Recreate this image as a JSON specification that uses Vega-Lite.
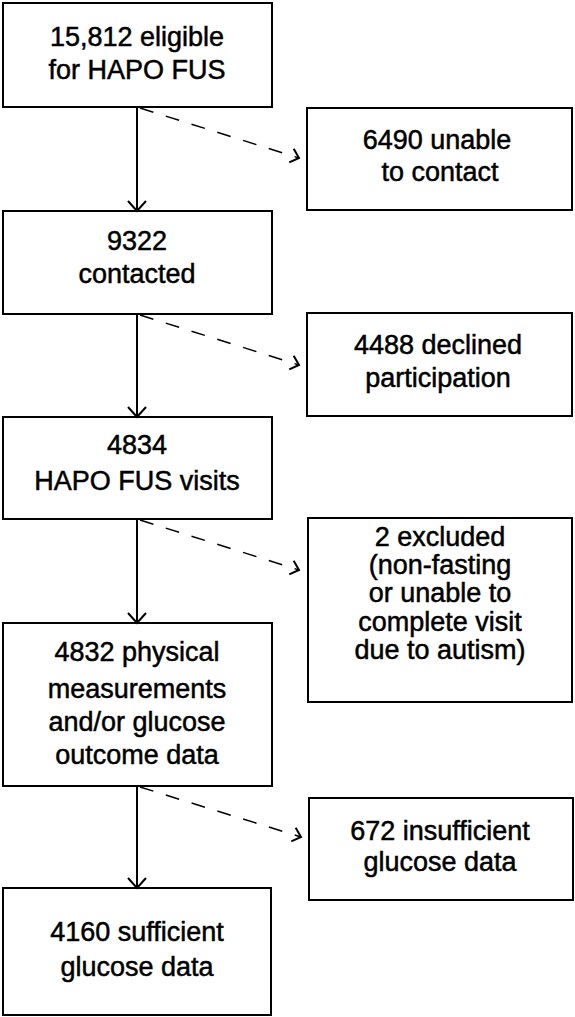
{
  "$schema": "https://vega.github.io/schema/vega-lite/v6.json",
  "width": 575,
  "height": 1017,
  "padding": 0,
  "autosize": {"type": "none"},
  "config": {"view": {"stroke": null}},
  "datasets": {
    "boxes": [
      {"id": "b1", "x1": 3, "x2": 272, "y1": 3, "y2": 107},
      {"id": "b2", "x1": 3, "x2": 272, "y1": 211, "y2": 314},
      {"id": "b3", "x1": 3, "x2": 272, "y1": 417, "y2": 519},
      {"id": "b4", "x1": 3, "x2": 272, "y1": 623, "y2": 786},
      {"id": "b5", "x1": 3, "x2": 271, "y1": 888, "y2": 1015},
      {"id": "r1", "x1": 307, "x2": 572, "y1": 108, "y2": 210},
      {"id": "r2", "x1": 307, "x2": 572, "y1": 313, "y2": 416},
      {"id": "r3", "x1": 308, "x2": 572, "y1": 518, "y2": 702},
      {"id": "r4", "x1": 309, "x2": 573, "y1": 798, "y2": 900}
    ],
    "links": [
      {"kind": "solid", "x1": 137, "y1": 107, "x2": 137, "y2": 211},
      {"kind": "solid", "x1": 137, "y1": 314, "x2": 137, "y2": 417},
      {"kind": "solid", "x1": 137, "y1": 519, "x2": 137, "y2": 623},
      {"kind": "solid", "x1": 137, "y1": 786, "x2": 137, "y2": 888},
      {"kind": "dashed", "x1": 140, "y1": 108, "x2": 299, "y2": 158},
      {"kind": "dashed", "x1": 140, "y1": 315, "x2": 299, "y2": 365},
      {"kind": "dashed", "x1": 140, "y1": 520, "x2": 299, "y2": 570},
      {"kind": "dashed", "x1": 140, "y1": 787, "x2": 301, "y2": 837}
    ],
    "lines": [
      {"t": "15,812 eligible", "x": 137, "y": 38},
      {"t": "for HAPO FUS", "x": 137, "y": 71},
      {"t": "9322", "x": 137, "y": 242},
      {"t": "contacted", "x": 137, "y": 275},
      {"t": "4834", "x": 137, "y": 446},
      {"t": "HAPO FUS visits", "x": 137, "y": 482},
      {"t": "4832 physical", "x": 137, "y": 653},
      {"t": "measurements", "x": 137, "y": 690},
      {"t": "and/or glucose", "x": 137, "y": 723},
      {"t": "outcome data", "x": 137, "y": 756},
      {"t": "4160 sufficient", "x": 137, "y": 933},
      {"t": "glucose data", "x": 137, "y": 968},
      {"t": "6490 unable", "x": 437, "y": 141},
      {"t": "to contact", "x": 440, "y": 173},
      {"t": "4488 declined", "x": 438, "y": 346},
      {"t": "participation", "x": 438, "y": 379},
      {"t": "2 excluded", "x": 440, "y": 538},
      {"t": "(non-fasting", "x": 440, "y": 566},
      {"t": "or unable to", "x": 440, "y": 594},
      {"t": "complete visit", "x": 440, "y": 623},
      {"t": "due to autism)", "x": 440, "y": 651},
      {"t": "672 insufficient", "x": 440, "y": 832},
      {"t": "glucose data", "x": 440, "y": 863}
    ]
  },
  "layer": [
    {
      "data": {"name": "boxes"},
      "mark": {"type": "rect", "fill": "white", "stroke": "black", "strokeWidth": 2},
      "encoding": {
        "x": {"field": "x1", "type": "quantitative", "scale": {"domain": [0, 575], "nice": false, "zero": false}, "axis": null},
        "x2": {"field": "x2"},
        "y": {"field": "y1", "type": "quantitative", "scale": {"domain": [0, 1017], "nice": false, "zero": false, "reverse": true}, "axis": null},
        "y2": {"field": "y2"}
      }
    },
    {
      "data": {"name": "links"},
      "transform": [{"filter": "datum.kind === 'solid'"}],
      "mark": {"type": "rule", "stroke": "black", "strokeWidth": 2},
      "encoding": {
        "x": {"field": "x1", "type": "quantitative"},
        "x2": {"field": "x2"},
        "y": {"field": "y1", "type": "quantitative"},
        "y2": {"field": "y2"}
      }
    },
    {
      "data": {"name": "links"},
      "transform": [{"filter": "datum.kind === 'dashed'"}],
      "mark": {"type": "rule", "stroke": "black", "strokeWidth": 1.5, "strokeDash": [14, 13]},
      "encoding": {
        "x": {"field": "x1", "type": "quantitative"},
        "x2": {"field": "x2"},
        "y": {"field": "y1", "type": "quantitative"},
        "y2": {"field": "y2"}
      }
    },
    {
      "data": {"name": "links"},
      "transform": [{"filter": "datum.kind === 'solid'"}],
      "mark": {"type": "point", "shape": "M-1,-0.9L0,0L-1,0.9", "filled": false, "stroke": "black", "strokeWidth": 2, "size": 400, "angle": 90, "opacity": 1},
      "encoding": {
        "x": {"field": "x2", "type": "quantitative"},
        "y": {"field": "y2", "type": "quantitative"}
      }
    },
    {
      "data": {"name": "links"},
      "transform": [{"filter": "datum.kind === 'dashed'"}],
      "mark": {"type": "point", "shape": "M-1,-0.9L0,0L-1,0.9", "filled": false, "stroke": "black", "strokeWidth": 2, "size": 250, "angle": 18, "opacity": 1},
      "encoding": {
        "x": {"field": "x2", "type": "quantitative"},
        "y": {"field": "y2", "type": "quantitative"}
      }
    },
    {
      "data": {"name": "lines"},
      "mark": {"type": "text", "font": "Liberation Sans", "fontSize": 27, "fill": "black", "stroke": "black", "strokeWidth": 0.5, "align": "center", "baseline": "middle"},
      "encoding": {
        "x": {"field": "x", "type": "quantitative"},
        "y": {"field": "y", "type": "quantitative"},
        "text": {"field": "t"}
      }
    }
  ]
}
